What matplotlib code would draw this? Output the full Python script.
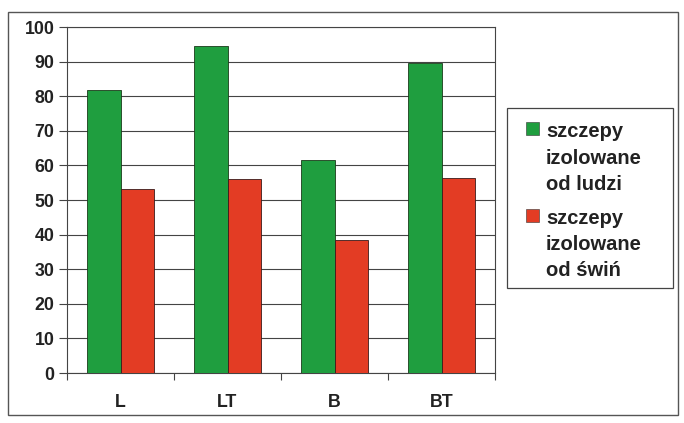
import matplotlib
matplotlib.use("Agg")
import matplotlib.pyplot as plt
import numpy as np
from matplotlib.patches import Rectangle

plt.rcParams['font.family'] = ['Liberation Sans', 'DejaVu Sans']
plt.rcParams['font.weight'] = 'bold'

categories = ["L", "LT", "B", "BT"]
ludzi = [81.7, 94.6, 61.6, 89.5]
swin = [53.1, 56.2, 38.5, 56.5]
series_labels = ["szczepy\nizolowane\nod ludzi", "szczepy\nizolowane\nod świń"]
yticks = list(range(0, 101, 10))

green = "#1f9e3f"
red = "#e33c24"
text_col = "#222222"
line_col = "#444444"

fig = plt.figure(figsize=(6.84, 4.23), dpi=100)
W, H = 684, 423


def fx(px):
    return px / W


def fy(py):
    return 1 - py / H


ax = fig.add_axes([fx(67), fy(373), (495 - 67) / W, (373 - 27) / H])

x = np.arange(len(categories))
bw = 0.31
b1 = ax.bar(x - bw / 2, ludzi, bw, color=green, edgecolor="#1a3a1a", linewidth=0.6, zorder=3)
b2 = ax.bar(x + bw / 2, swin, bw, color=red, edgecolor="#3a1a1a", linewidth=0.6, zorder=3)

ax.set_xlim(-0.5, len(categories) - 0.5)
ax.set_ylim(0, 100)
ax.set_yticks(yticks)
ax.set_yticklabels([str(v) for v in yticks], fontsize=12.8, fontweight='bold', color=text_col)
ax.set_xticks(x)
ax.set_xticklabels(categories, fontsize=12.8, fontweight='bold', color=text_col)
ax.tick_params(axis='x', which='major', length=0, pad=15)
ax.set_xticks(np.arange(-0.5, len(categories), 1.0), minor=True)
ax.tick_params(axis='x', which='minor', length=5, width=0.8, color=line_col, direction='out')
ax.tick_params(axis='y', length=6, width=0.8, color=line_col, direction='out', pad=3)
ax.yaxis.grid(True, color=line_col, linewidth=0.8, zorder=0)
ax.set_axisbelow(True)
for side in ["left", "bottom", "right", "top"]:
    ax.spines[side].set_color(line_col)
    ax.spines[side].set_linewidth(0.8)

# legend box with square keys beside the first line of each entry
fig.patches.append(Rectangle((fx(507), fy(288)), (673 - 507) / W, (288 - 108) / H,
                             transform=fig.transFigure, fill=False,
                             edgecolor=line_col, linewidth=0.9))
entries = [(green, series_labels[0], 137), (red, series_labels[1], 223.5)]
line_step = 26.5
for col, label, base in entries:
    fig.patches.append(Rectangle((fx(526), fy(base - 1.5)), 13 / W, 13 / H,
                                 transform=fig.transFigure, facecolor=col,
                                 edgecolor="#333333", linewidth=0.4))
    for i, line in enumerate(label.split("\n")):
        fig.text(fx(546), fy(base + i * line_step), line, fontsize=14.5, fontweight='bold',
                 color=text_col, ha='left', va='baseline')

# outer chart border
fig.patches.append(Rectangle((fx(8), fy(415)), (678 - 8) / W, (415 - 12) / H,
                             transform=fig.transFigure, fill=False,
                             edgecolor="#555555", linewidth=1.0))

fig.savefig("out.png", dpi=100, facecolor="white")
